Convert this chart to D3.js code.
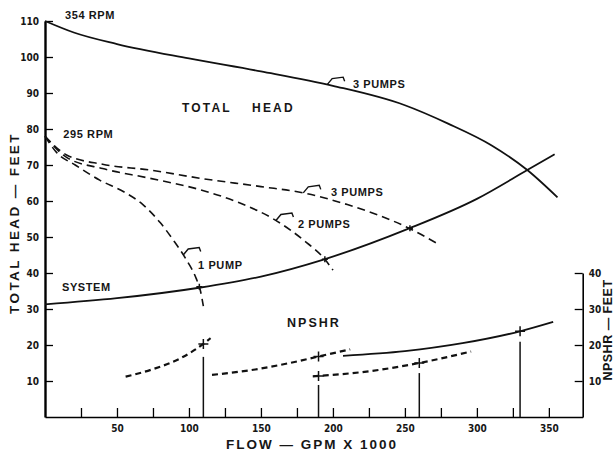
<!DOCTYPE html>
<html>
<head>
<meta charset="utf-8">
<script src="https://cdn.jsdelivr.net/npm/d3@7"></script>
<style>
  body { margin: 0; background: #fff; }
  text { font-family: "Liberation Sans", Arial, sans-serif; font-weight: bold; fill: #161616; }
  .tick text { font-family: "Liberation Sans Narrow", "DejaVu Sans Condensed", sans-serif; font-size: 10px; }
  .lbl { font-size: 11px; letter-spacing: 0.6px; }
</style>
</head>
<body>
<svg width="616" height="455"></svg>
<script>
// total head (feet) against flow (gpm x 1000)
var head354x3 = [[0,110],[20,106.8],[50,103.6],[100,99.6],[150,96],[200,92],[250,86.6],[280,81.5],[310,75.5],[335,68.6],[356,61]];
var head295x3 = [[0,78],[15,72.8],[40,70.2],[73,68.6],[108,66.3],[150,64],[179,62.3],[210,59],[253,52.4],[272,48.3]];
var head295x2 = [[0,78],[15,72.1],[40,69],[73,66.3],[108,63.1],[135,59.5],[160,54.7],[180,49],[194.4,43.8],[200,40.8]];
var head295x1 = [[0,78],[8,73.5],[21,70],[38,65.8],[55,62.5],[68,59],[80,54],[89,49.2],[98,43.8],[105,38.5],[108,35],[110,30.8]];
var systemCurve = [[0,31.3],[50,33],[107,35.9],[150,39],[194,43.8],[253,52.4],[300,60.6],[335,68.6],[354,73]];
var operating = [[107.2,36.2],[194.4,43.8],[253.5,52.4]];

// NPSHR (feet)
var npsh1 = [[56,11.2],[75,13.3],[94,16.3],[110,20.3],[115,21.9]];
var npsh2 = [[116,11.7],[146,13.2],[170,15],[190,16.8],[212,18.8]];
var npsh3 = [[186,11.3],[225,12.7],[260,15],[296,18.2]];
var npshSolid = [[207,17],[250,18.3],[290,20.5],[330,23.8],[353,26.4]];
var npshMarks = [[110,20.3],[190,16.8],[190,11.4],[260,15],[330,23.8]];
var dropLines = [[110,16.7],[190,8.9],[260,12.2],[330,20.9]];

var flowTicks = d3.range(25, 351, 25);
var headTicks = d3.range(10, 111, 10);
var npshTicks = [10, 20, 30, 40];

var svg = d3.select('svg');

var x = d3.scaleLinear().domain([0, 373.5]).range([45, 582.7]);
var y = d3.scaleLinear().domain([0, 110]).range([417, 21]);
var yR = d3.scaleLinear().domain([0, 40]).range([417, y(40)]);

var line = d3.line()
  .x(function(d) { return x(d[0]); })
  .y(function(d) { return y(d[1]); })
  .curve(d3.curveMonotoneX);

// axes
var gx = svg.append('g').attr('transform', 'translate(0,' + y(0) + ')')
  .call(d3.axisBottom(x).tickValues(flowTicks).tickSizeInner(-9).tickSizeOuter(0).tickPadding(8)
    .tickFormat(function(d) { return d % 50 === 0 ? d : ''; }));
gx.select('.domain').attr('stroke-width', 1.6);

var gy = svg.append('g').attr('transform', 'translate(' + x(0) + ',0)')
  .call(d3.axisLeft(y).tickValues(headTicks).tickSizeInner(-8).tickSizeOuter(0).tickPadding(6));
gy.select('.domain').attr('stroke-width', 2.4);

var gr = svg.append('g').attr('transform', 'translate(' + x(373.5) + ',0)')
  .call(d3.axisRight(yR).tickValues(npshTicks).tickSizeInner(-8).tickSizeOuter(0).tickPadding(6));
gr.select('.domain').attr('stroke-width', 1.6);

svg.selectAll('.tick line').attr('stroke-width', 1.3);

// head curves
svg.append('path').datum(head354x3).attr('d', line)
  .attr('fill', 'none').attr('stroke', '#111').attr('stroke-width', 1.8);
svg.append('path').datum(systemCurve).attr('d', line)
  .attr('fill', 'none').attr('stroke', '#111').attr('stroke-width', 1.8);

[head295x3, head295x2, head295x1].forEach(function(s) {
  svg.append('path').datum(s).attr('d', line)
    .attr('fill', 'none').attr('stroke', '#111').attr('stroke-width', 1.6)
    .attr('stroke-dasharray', '8,5');
});

// small marks where the pump curves cut the system curve
svg.selectAll('.op').data(operating).enter().append('path')
  .attr('class', 'op')
  .attr('d', function(d) {
    var px = x(d[0]), py = y(d[1]);
    return 'M' + (px - 3) + ',' + py + 'h6M' + px + ',' + (py - 3) + 'v6';
  })
  .attr('stroke', '#111').attr('stroke-width', 1.5);

// NPSHR curves
[npsh1, npsh2, npsh3].forEach(function(s) {
  svg.append('path').datum(s).attr('d', line)
    .attr('fill', 'none').attr('stroke', '#111').attr('stroke-width', 2.2)
    .attr('stroke-dasharray', '6,4');
});
svg.append('path').datum(npshSolid).attr('d', line)
  .attr('fill', 'none').attr('stroke', '#111').attr('stroke-width', 1.8);

svg.selectAll('.drop').data(dropLines).enter().append('line')
  .attr('class', 'drop')
  .attr('x1', function(d) { return x(d[0]); })
  .attr('x2', function(d) { return x(d[0]); })
  .attr('y1', function(d) { return y(d[1]); })
  .attr('y2', y(0))
  .attr('stroke', '#111').attr('stroke-width', 1.5);

svg.selectAll('.mark').data(npshMarks).enter().append('path')
  .attr('class', 'mark')
  .attr('d', function(d) {
    var px = x(d[0]), py = y(d[1]);
    return 'M' + (px - 5) + ',' + py + 'h10M' + px + ',' + (py - 5) + 'v10';
  })
  .attr('stroke', '#111').attr('stroke-width', 1.5);

// leader hooks from the labels to the curves
var hooks = [[196, head354x3], [179.4, head295x3], [160.4, head295x2], [96, head295x1]];
hooks.forEach(function(h) {
  var s = h[1], q = h[0];
  var i = d3.bisector(function(d) { return d[0]; }).left(s, q);
  var a = s[i - 1], b = s[i], t = (q - a[0]) / (b[0] - a[0]);
  var px = x(q), py = y(a[1] + t * (b[1] - a[1]));
  svg.append('path')
    .attr('d', 'M' + px + ',' + py + 'l5,-6l11,-1.5l1.5,4')
    .attr('fill', 'none').attr('stroke', '#111').attr('stroke-width', 1.4);
});

// labels
function label(txt, q, h, cls) {
  return svg.append('text').attr('class', cls || 'lbl')
    .attr('x', x(q)).attr('y', y(h)).text(txt);
}
label('354 RPM', 13.9, 110.6);
label('295 RPM', 12.7, 77.5);
label('3 PUMPS', 213.9, 91.5);
label('3 PUMPS', 198.6, 61.4);
label('2 PUMPS', 175.7, 52.4);
label('1 PUMP', 106.3, 41);
label('SYSTEM', 11.8, 35);
label('TOTAL', 95.1, 84.7).style('font-size', '12px').style('letter-spacing', '2.2px');
label('HEAD', 143.8, 84.7).style('font-size', '12px').style('letter-spacing', '2.2px');
label('NPSHR', 186.8, 25.1).attr('text-anchor', 'middle')
  .style('font-size', '12.5px').style('letter-spacing', '2px');

svg.append('text')
  .attr('x', 312).attr('y', 449)
  .attr('text-anchor', 'middle')
  .style('font-size', '13.5px').style('letter-spacing', '2px')
  .text('FLOW — GPM X 1000');

svg.append('text')
  .attr('transform', 'translate(19,223) rotate(-90)')
  .attr('text-anchor', 'middle')
  .style('font-size', '13.5px').style('letter-spacing', '2.4px')
  .text('TOTAL HEAD — FEET');

svg.append('text')
  .attr('transform', 'translate(612,330) rotate(-90)')
  .attr('text-anchor', 'middle')
  .style('font-size', '12.5px').style('letter-spacing', '0.5px')
  .text('NPSHR — FEET');
</script>
</body>
</html>
